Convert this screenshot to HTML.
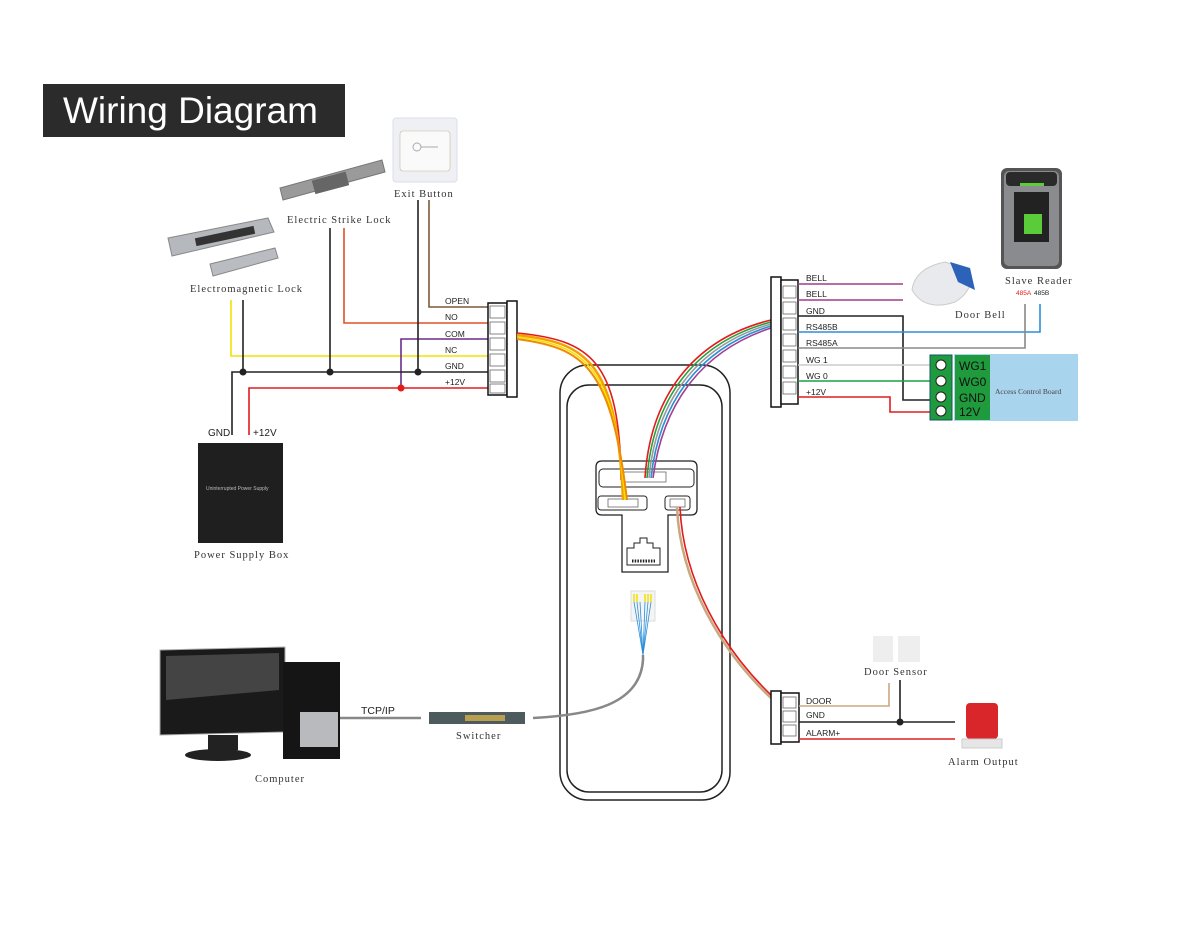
<!DOCTYPE html>
<html><head><meta charset="utf-8"><style>
html,body{margin:0;padding:0;background:#fff}
svg{display:block}
.s{font-family:"Liberation Serif","Noto Serif CJK SC",serif;font-size:10.5px;fill:#333;letter-spacing:1px}
.w{font-family:"Liberation Sans","DejaVu Sans",sans-serif;font-size:8.5px;fill:#222}
</style></head><body>
<svg width="1200" height="927" viewBox="0 0 1200 927" xmlns="http://www.w3.org/2000/svg">
<rect width="1200" height="927" fill="#fff"/>
<!-- title -->
<rect x="43" y="84" width="302" height="53" fill="#2b2b2b"/>
<text x="63" y="123" font-family="Liberation Sans,sans-serif" font-size="37" fill="#fff">Wiring Diagram</text>

<!-- Exit button -->
<rect x="393" y="118" width="64" height="64" rx="3" fill="#eef0f3" stroke="#dde" />
<rect x="400" y="131" width="50" height="40" rx="3" fill="#fafafa" stroke="#c9b7a0" stroke-width="0.6"/>
<circle cx="417" cy="147" r="4" fill="none" stroke="#aaa"/><line x1="421" y1="147" x2="438" y2="147" stroke="#aaa"/>
<text class="s" x="394" y="197">Exit Button</text>
<!-- strike lock -->
<polygon points="280,188 382,160 385,172 283,200" fill="#9a9a9a" stroke="#777"/>
<rect x="313" y="176" width="35" height="14" fill="#666" transform="rotate(-15 330 183)"/>
<text class="s" x="287" y="223">Electric Strike Lock</text>
<!-- EM lock -->
<polygon points="168,238 268,218 274,232 172,256" fill="#b5b8bd" stroke="#888"/>
<rect x="195" y="232" width="60" height="8" fill="#333" transform="rotate(-12 225 236)"/>
<polygon points="210,264 275,248 278,258 213,276" fill="#b9bcc0" stroke="#888"/>
<text class="s" x="190" y="292">Electromagnetic Lock</text>

<!-- left wires -->
<g fill="none" stroke-width="1.6">
<path d="M429 200 V307 H489" stroke="#7a5a3a"/>
<path d="M344 228 V323 H489" stroke="#e0502a"/>
<path d="M231 300 V356 H489" stroke="#f5e000"/>
<path d="M489 339 H401 V388" stroke="#6a2c8a"/>
<path d="M418 200 V372" stroke="#222"/>
<path d="M330 228 V372" stroke="#222"/>
<path d="M243 300 V372" stroke="#222"/>
<path d="M232 435 V372 H489" stroke="#222"/>
<path d="M249 435 V388 H489" stroke="#e21b1b"/>
</g>
<g fill="#222"><circle cx="243" cy="372" r="3.5"/><circle cx="330" cy="372" r="3.5"/><circle cx="418" cy="372" r="3.5"/></g>
<circle cx="401" cy="388" r="3.5" fill="#e21b1b"/>
<g class="w"><text x="445" y="304">OPEN</text><text x="445" y="320">NO</text><text x="445" y="337">COM</text><text x="445" y="353">NC</text><text x="445" y="369">GND</text><text x="445" y="385">+12V</text></g>
<!-- left connector -->
<rect x="488" y="303" width="19" height="92" fill="#fff" stroke="#111" stroke-width="1.5"/>
<rect x="507" y="301" width="10" height="96" fill="#fff" stroke="#111" stroke-width="1.5"/>
<g fill="none" stroke="#666" stroke-width="0.8"><rect x="490" y="306" width="15" height="12"/><rect x="490" y="322" width="15" height="12"/><rect x="490" y="338" width="15" height="12"/><rect x="490" y="354" width="15" height="12"/><rect x="490" y="370" width="15" height="12"/><rect x="490" y="384" width="15" height="9"/></g>

<!-- power supply -->
<text x="208" y="436" font-family="Liberation Sans,sans-serif" font-size="10" fill="#222">GND</text>
<text x="253" y="436" font-family="Liberation Sans,sans-serif" font-size="10" fill="#222">+12V</text>
<rect x="198" y="443" width="85" height="100" fill="#1f1f1f"/>
<text x="206" y="490" font-family="Liberation Sans,sans-serif" font-size="5" fill="#bbb">Uninterrupted Power Supply</text>
<text class="s" x="194" y="558">Power Supply Box</text>

<!-- reader body -->
<rect x="560" y="365" width="170" height="435" rx="28" fill="#fff" stroke="#222" stroke-width="1.5"/>
<rect x="567" y="385" width="155" height="407" rx="22" fill="none" stroke="#222" stroke-width="1.5"/>
<path d="M602 461 H691 Q697 461 697 467 V509 Q697 515 691 515 H668 V572 H622 V515 H602 Q596 515 596 509 V467 Q596 461 602 461 Z" fill="#fff" stroke="#222" stroke-width="1.3"/>
<rect x="599" y="469" width="95" height="18" rx="4" fill="none" stroke="#222"/>
<rect x="624" y="472" width="42" height="10" fill="#fff" stroke="#555" stroke-width="0.7"/>
<rect x="598" y="496" width="49" height="14" rx="3" fill="none" stroke="#222"/>
<rect x="608" y="499" width="30" height="8" fill="#fff" stroke="#555" stroke-width="0.7"/>
<rect x="665" y="496" width="25" height="14" rx="3" fill="none" stroke="#222"/>
<rect x="670" y="499" width="15" height="8" fill="#fff" stroke="#555" stroke-width="0.7"/>
<path d="M627 565 V548 H634 V543 H640 V538 H647 V543 H653 V548 H660 V565 Z" fill="#fff" stroke="#222"/>
<line x1="632" y1="561" x2="655" y2="561" stroke="#222" stroke-width="3" stroke-dasharray="1.5 1.2"/>

<!-- cables -->
<g fill="none" stroke-width="1.6">
<path d="M517 333 C590 340 620 360 621 480" stroke="#e21b1b"/>
<path d="M517 335 C588 343 617 362 623 500" stroke="#f5a000" stroke-width="2.5"/>
<path d="M517 337 C586 346 614 364 625 500" stroke="#f5e000"/>
<path d="M517 339 C584 348 611 366 627 500" stroke="#f08a00" stroke-width="2"/>
<path d="M771 320 C690 340 650 400 645 478" stroke="#e21b1b"/>
<path d="M771 322 C692 343 653 402 647 478" stroke="#2aa040"/>
<path d="M771 324 C694 346 656 404 649 478" stroke="#999"/>
<path d="M771 326 C696 349 659 406 651 478" stroke="#2a8fd8"/>
<path d="M771 328 C698 352 662 408 653 478" stroke="#a04090"/>
<path d="M677 507 C680 580 720 650 771 698" stroke="#c9a880" stroke-width="2.5"/>
<path d="M680 507 C683 580 722 648 772 696" stroke="#e21b1b"/>
<path d="M533 718 C590 715 640 705 643 660 V655" stroke="#888" stroke-width="2.5"/>
</g>
<!-- RJ45 plug -->
<rect x="631" y="591" width="24" height="30" fill="#f4f4f4" stroke="#ddd"/>
<g stroke="#f5e000" stroke-width="1.5"><line x1="634" y1="594" x2="634" y2="602"/><line x1="637" y1="594" x2="637" y2="602"/><line x1="645" y1="594" x2="645" y2="602"/><line x1="648" y1="594" x2="648" y2="602"/><line x1="651" y1="594" x2="651" y2="602"/></g>
<g stroke="#2a8fd8" stroke-width="0.8"><line x1="634" y1="602" x2="643" y2="655"/><line x1="637" y1="602" x2="643" y2="655"/><line x1="640" y1="602" x2="643" y2="655"/><line x1="645" y1="602" x2="643" y2="655"/><line x1="648" y1="602" x2="643" y2="655"/><line x1="651" y1="602" x2="643" y2="655"/></g>

<!-- right connector -->
<rect x="771" y="277" width="10" height="130" fill="#fff" stroke="#111" stroke-width="1.5"/>
<rect x="781" y="280" width="17" height="124" fill="#fff" stroke="#111" stroke-width="1.5"/>
<g fill="none" stroke="#666" stroke-width="0.8"><rect x="783" y="286" width="13" height="12"/><rect x="783" y="302" width="13" height="12"/><rect x="783" y="318" width="13" height="12"/><rect x="783" y="334" width="13" height="12"/><rect x="783" y="350" width="13" height="12"/><rect x="783" y="366" width="13" height="12"/><rect x="783" y="382" width="13" height="12"/></g>
<g fill="none" stroke-width="1.6">
<path d="M798 284 H903" stroke="#a03c8c"/>
<path d="M798 300 H903" stroke="#a03c8c"/>
<path d="M798 316 H903 V400 H930" stroke="#222"/>
<path d="M798 332 H1040 V304" stroke="#2a8fd8"/>
<path d="M798 348 H1025 V304" stroke="#888"/>
<path d="M798 365 H930" stroke="#ccc"/>
<path d="M798 381 H930" stroke="#1aa040"/>
<path d="M798 397 H890 V412 H930" stroke="#e21b1b"/>
</g>
<g class="w"><text x="806" y="281">BELL</text><text x="806" y="297">BELL</text><text x="806" y="314">GND</text><text x="806" y="330">RS485B</text><text x="806" y="346">RS485A</text><text x="806" y="363">WG 1</text><text x="806" y="379">WG 0</text><text x="806" y="395">+12V</text></g>
<!-- access control board -->
<rect x="954" y="354" width="124" height="67" fill="#a8d4ee"/>
<rect x="930" y="355" width="22" height="65" fill="#1f9a3c" stroke="#156"/>
<rect x="955" y="355" width="35" height="65" fill="#1f9a3c"/>
<g fill="#fff" stroke="#222"><circle cx="941" cy="365" r="5"/><circle cx="941" cy="381" r="5"/><circle cx="941" cy="397" r="5"/><circle cx="941" cy="411" r="5"/></g>
<g font-family="Liberation Sans,sans-serif" font-size="12" fill="#111"><text x="959" y="370">WG1</text><text x="959" y="386">WG0</text><text x="959" y="402">GND</text><text x="959" y="416">12V</text></g>
<text x="995" y="394" font-family="Liberation Serif,serif" font-size="7.5" fill="#444">Access Control Board</text>
<!-- door bell -->
<path d="M912 290 Q915 268 945 262 L970 270 Q975 290 955 302 Q925 312 912 290Z" fill="#e8eaee" stroke="#ccc"/>
<path d="M950 262 L970 268 L975 290 L958 282 Z" fill="#2c62b8"/>
<text class="s" x="955" y="318" font-size="11">Door Bell</text>
<!-- slave reader -->
<rect x="1001" y="168" width="61" height="101" rx="6" fill="#555"/>
<rect x="1004" y="171" width="55" height="95" rx="5" fill="#8a8b8e"/>
<rect x="1006" y="172" width="51" height="14" rx="4" fill="#2a2a2a"/>
<rect x="1020" y="183" width="24" height="3" fill="#5ccc3a"/>
<rect x="1014" y="192" width="35" height="50" fill="#222"/>
<rect x="1024" y="214" width="18" height="20" fill="#5acc3a"/>
<text class="s" x="1005" y="284" font-size="10">Slave Reader</text>
<text x="1016" y="295" font-family="Liberation Sans,sans-serif" font-size="6.5" fill="#e21b1b">485A</text>
<text x="1034" y="295" font-family="Liberation Sans,sans-serif" font-size="6.5" fill="#222">485B</text>

<!-- bottom connector -->
<rect x="771" y="691" width="10" height="53" fill="#fff" stroke="#111" stroke-width="1.5"/>
<rect x="781" y="693" width="18" height="49" fill="#fff" stroke="#111" stroke-width="1.5"/>
<g fill="none" stroke="#666" stroke-width="0.8"><rect x="783" y="697" width="13" height="11"/><rect x="783" y="711" width="13" height="11"/><rect x="783" y="725" width="13" height="11"/></g>
<g fill="none" stroke-width="1.6">
<path d="M799 706 H889 V683" stroke="#c9a880"/>
<path d="M799 722 H955" stroke="#222"/>
<path d="M900 680 V722" stroke="#222"/>
<path d="M799 739 H955" stroke="#e21b1b"/>
</g>
<circle cx="900" cy="722" r="3.5" fill="#222"/>
<g class="w"><text x="806" y="704">DOOR</text><text x="806" y="718">GND</text><text x="806" y="736">ALARM+</text></g>
<rect x="873" y="636" width="20" height="26" fill="#eee"/><rect x="898" y="636" width="22" height="26" fill="#eee"/>
<text class="s" x="864" y="675">Door Sensor</text>
<rect x="966" y="703" width="32" height="36" rx="4" fill="#d8262a"/>
<rect x="962" y="739" width="40" height="9" fill="#e6e6e6" stroke="#ccc"/>
<text class="s" x="948" y="765">Alarm Output</text>

<!-- computer -->
<polygon points="160,650 285,647 285,732 160,735" fill="#1a1a1a" stroke="#aaa"/>
<polygon points="166,656 279,653 279,690 166,700" fill="#444"/>
<rect x="208" y="735" width="30" height="15" fill="#222"/>
<ellipse cx="218" cy="755" rx="33" ry="6" fill="#222"/>
<rect x="283" y="662" width="57" height="97" fill="#151515"/>
<rect x="300" y="712" width="38" height="35" fill="#b8babd"/>
<text x="255" y="782" class="s" font-size="10" letter-spacing="0.5">Computer</text>
<line x1="340" y1="718" x2="421" y2="718" stroke="#888" stroke-width="2.5"/>
<text x="361" y="714" font-family="Liberation Sans,sans-serif" font-size="10.5" fill="#222">TCP/IP</text>
<rect x="429" y="712" width="96" height="12" fill="#4d5a5e"/>
<rect x="465" y="715" width="40" height="6" fill="#b8a050"/>
<text class="s" x="456" y="739" font-size="10" letter-spacing="0.5">Switcher</text>
</svg>
</body></html>
